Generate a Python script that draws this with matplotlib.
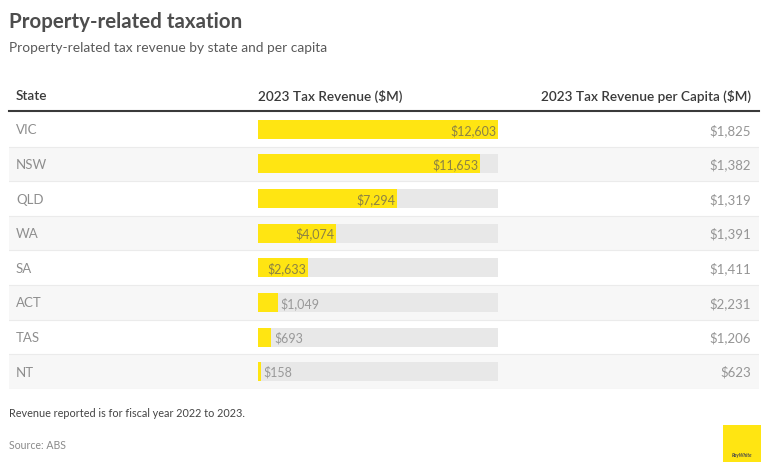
import matplotlib
matplotlib.use('Agg')
import matplotlib.pyplot as plt

plt.rcParams['font.family'] = ['Lato', 'DejaVu Sans']

states = ['VIC', 'NSW', 'QLD', 'WA', 'SA', 'ACT', 'TAS', 'NT']
revenue = [12603, 11653, 7294, 4074, 2633, 1049, 693, 158]
per_capita = [1825, 1382, 1319, 1391, 1411, 2231, 1206, 623]
headers = ['State', '2023 Tax Revenue ($M)', '2023 Tax Revenue per Capita ($M)']

W, H = 768, 473
YELLOW = '#ffe512'
fig = plt.figure(figsize=(W / 100, H / 100), dpi=100)


def fx(x):
    return x / W


def fy(y):
    return 1 - y / H


# titles
fig.text(fx(9), fy(22), 'Property-related taxation', fontsize=14.8, fontweight='bold',
         color='#4d4d4d', va='center')
fig.text(fx(9), fy(48), 'Property-related tax revenue by state and per capita', fontsize=9.9,
         color='#5a5a5a', va='center')

# table background axes (x in pixels, y in row index)
top, bottom = 112, 389
n = len(states)
tab = fig.add_axes([fx(9), fy(bottom), (759 - 9) / W, (bottom - top) / H])
tab.set_xlim(9, 759)
tab.set_ylim(n - 0.5, -0.5)
tab.axis('off')
for i in range(n):
    if i % 2 == 1:
        tab.axhspan(i - 0.5, i + 0.5, color='#f7f7f7', lw=0)
    tab.axhline(i + 0.5, color='#ebebeb', lw=0.8)
    tab.text(16, i, states[i], fontsize=9.5, color='#8e8e8e', va='center_baseline', ha='left')
    tab.text(751, i, '${:,}'.format(per_capita[i]), fontsize=9.5, color='#959595',
             va='center_baseline', ha='right')

# header
fig.text(fx(16), fy(96), headers[0], fontsize=9.8, fontweight='semibold', color='#3a3a3a', va='center')
fig.text(fx(258), fy(96), headers[1], fontsize=9.8, fontweight='semibold', color='#3a3a3a', va='center')
fig.text(fx(751), fy(96), headers[2], fontsize=9.8, fontweight='semibold', color='#3a3a3a',
         va='center', ha='right')
fig.add_artist(plt.Line2D([fx(9), fx(759)], [fy(111.5), fy(111.5)], color='#3a3a3a', lw=1.5))

# bars
bx = fig.add_axes([fx(258), fy(bottom), (498 - 258) / W, (bottom - top) / H])
bx.patch.set_alpha(0)
bx.axis('off')
vmax = max(revenue)
ypos = list(range(n))
bx.barh(ypos, [vmax] * n, height=0.55, color='#e8e8e8', lw=0)
bx.barh(ypos, revenue, height=0.55, color=YELLOW, lw=0)
bx.set_xlim(0, vmax)
bx.set_ylim(n - 0.5, -0.5)
for i, v in enumerate(revenue):
    lab = '${:,}'.format(v)
    if v > 2000:
        bx.text(v - vmax * 0.006, i, lab, fontsize=9, color='#8c8244', va='center_baseline', ha='right')
    else:
        bx.text(v + vmax * 0.012, i, lab, fontsize=9, color='#999999', va='center_baseline', ha='left')

# notes
fig.text(fx(9), fy(413), 'Revenue reported is for fiscal year 2022 to 2023.', fontsize=7.8,
         color='#444444', va='center')
fig.text(fx(9), fy(445), 'Source: ABS', fontsize=7.6, color='#8a8a8a', va='center')

# logo
fig.add_artist(plt.Rectangle((fx(723), fy(462)), 38 / W, 37 / H, color=YELLOW, lw=0))
fig.text(fx(742), fy(455), 'RayWhite', fontsize=3.5, fontweight='bold', style='italic',
         color='#4a4a4a', ha='center', va='center')

fig.savefig('out.png', dpi=100, facecolor='white')
